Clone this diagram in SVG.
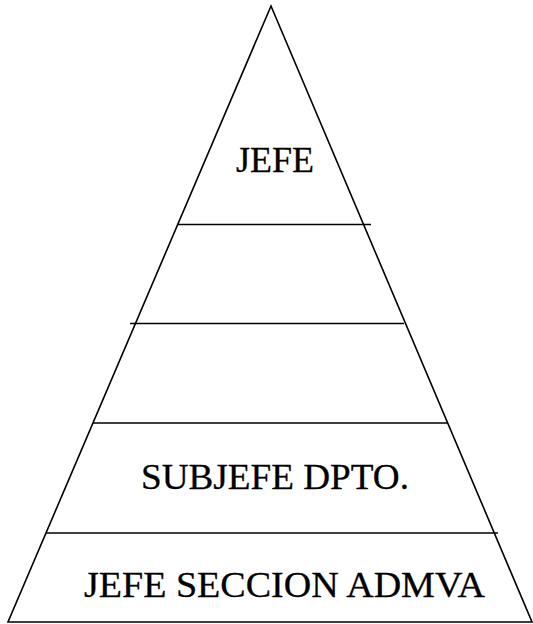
<svg xmlns="http://www.w3.org/2000/svg" width="533" height="624" viewBox="0 0 533 624">
<style>
.l{stroke:#000;stroke-width:1.6;fill:none}
text{font-family:'Times New Roman','Liberation Serif',Times,serif;font-size:36px;fill:#000;stroke:#000;stroke-width:0.3}
</style>
<rect width="533" height="624" fill="#fff"/>
<g id="connectors">
<polygon class="l" points="271,6 8,622 532,622"/>
<line class="l" x1="177" y1="224.5" x2="371" y2="224.5"/>
<line class="l" x1="130" y1="323.5" x2="404" y2="323.5"/>
<line class="l" x1="93" y1="423" x2="448" y2="423"/>
<line class="l" x1="46" y1="533" x2="498" y2="533"/>
</g>
<g id="jefe"><text x="236" y="172" textLength="78" lengthAdjust="spacingAndGlyphs">JEFE</text></g>
<g id="subjefe"><text x="141" y="489" textLength="268" lengthAdjust="spacingAndGlyphs">SUBJEFE DPTO.</text></g>
<g id="seccion"><text x="84" y="597" textLength="401" lengthAdjust="spacingAndGlyphs">JEFE SECCION ADMVA</text></g>
</svg>
